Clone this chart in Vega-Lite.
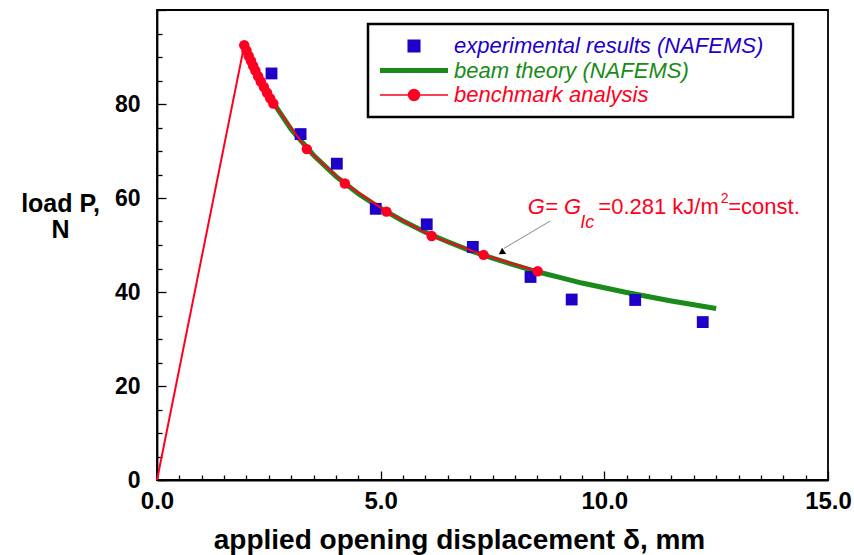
{
  "$schema": "https://vega.github.io/schema/vega-lite/v6.json",
  "width": 671,
  "height": 470,
  "autosize": {"type": "none"},
  "padding": {"left": 157, "top": 10, "right": 26, "bottom": 75},
  "background": "white",
  "config": {
    "view": {"stroke": "black", "strokeWidth": 1.8},
    "font": "Liberation Sans"
  },
  "datasets": {
    "beam": [
      {"d": 1.95, "P": 92.5, "series": "beam theory (NAFEMS)"},
      {"d": 2.0, "P": 91.4, "series": "beam theory (NAFEMS)"},
      {"d": 2.5, "P": 81.7, "series": "beam theory (NAFEMS)"},
      {"d": 3.0, "P": 74.6, "series": "beam theory (NAFEMS)"},
      {"d": 3.5, "P": 69.1, "series": "beam theory (NAFEMS)"},
      {"d": 4.0, "P": 64.6, "series": "beam theory (NAFEMS)"},
      {"d": 4.5, "P": 60.9, "series": "beam theory (NAFEMS)"},
      {"d": 5.0, "P": 57.8, "series": "beam theory (NAFEMS)"},
      {"d": 5.5, "P": 55.1, "series": "beam theory (NAFEMS)"},
      {"d": 6.0, "P": 52.7, "series": "beam theory (NAFEMS)"},
      {"d": 6.5, "P": 50.7, "series": "beam theory (NAFEMS)"},
      {"d": 7.0, "P": 48.8, "series": "beam theory (NAFEMS)"},
      {"d": 7.5, "P": 47.2, "series": "beam theory (NAFEMS)"},
      {"d": 8.0, "P": 45.7, "series": "beam theory (NAFEMS)"},
      {"d": 8.5, "P": 44.3, "series": "beam theory (NAFEMS)"},
      {"d": 9.0, "P": 43.1, "series": "beam theory (NAFEMS)"},
      {"d": 9.5, "P": 41.9, "series": "beam theory (NAFEMS)"},
      {"d": 10.0, "P": 40.9, "series": "beam theory (NAFEMS)"},
      {"d": 10.5, "P": 39.9, "series": "beam theory (NAFEMS)"},
      {"d": 11.0, "P": 39.0, "series": "beam theory (NAFEMS)"},
      {"d": 11.5, "P": 38.1, "series": "beam theory (NAFEMS)"},
      {"d": 12.0, "P": 37.3, "series": "beam theory (NAFEMS)"},
      {"d": 12.5, "P": 36.5, "series": "beam theory (NAFEMS)"}
    ],
    "experimental": [
      {"d": 2.56, "P": 86.5, "series": "experimental results (NAFEMS)"},
      {"d": 3.21, "P": 73.6, "series": "experimental results (NAFEMS)"},
      {"d": 4.02, "P": 67.3, "series": "experimental results (NAFEMS)"},
      {"d": 4.89, "P": 57.7, "series": "experimental results (NAFEMS)"},
      {"d": 6.03, "P": 54.4, "series": "experimental results (NAFEMS)"},
      {"d": 7.06, "P": 49.6, "series": "experimental results (NAFEMS)"},
      {"d": 8.35, "P": 43.2, "series": "experimental results (NAFEMS)"},
      {"d": 9.27, "P": 38.4, "series": "experimental results (NAFEMS)"},
      {"d": 10.69, "P": 38.3, "series": "experimental results (NAFEMS)"},
      {"d": 12.2, "P": 33.6, "series": "experimental results (NAFEMS)"}
    ],
    "benchmark": [
      {"d": 0.0, "P": 0.0, "series": "benchmark analysis"},
      {"d": 1.95, "P": 92.5, "series": "benchmark analysis"},
      {"d": 2.0, "P": 91.4, "series": "benchmark analysis"},
      {"d": 2.05, "P": 90.2, "series": "benchmark analysis"},
      {"d": 2.1, "P": 89.2, "series": "benchmark analysis"},
      {"d": 2.15, "P": 88.1, "series": "benchmark analysis"},
      {"d": 2.2, "P": 87.1, "series": "benchmark analysis"},
      {"d": 2.26, "P": 85.9, "series": "benchmark analysis"},
      {"d": 2.32, "P": 84.8, "series": "benchmark analysis"},
      {"d": 2.39, "P": 83.6, "series": "benchmark analysis"},
      {"d": 2.46, "P": 82.4, "series": "benchmark analysis"},
      {"d": 2.53, "P": 81.2, "series": "benchmark analysis"},
      {"d": 2.6, "P": 80.1, "series": "benchmark analysis"},
      {"d": 3.35, "P": 70.4, "series": "benchmark analysis"},
      {"d": 4.2, "P": 63.1, "series": "benchmark analysis"},
      {"d": 5.13, "P": 57.1, "series": "benchmark analysis"},
      {"d": 6.14, "P": 51.9, "series": "benchmark analysis"},
      {"d": 7.3, "P": 47.9, "series": "benchmark analysis"},
      {"d": 8.51, "P": 44.4, "series": "benchmark analysis"}
    ]
  },
  "resolve": {"axis": {"x": "independent", "y": "independent"}},
  "layer": [
    {
      "data": {"name": "beam"},
      "mark": {"type": "line", "strokeWidth": 5},
      "encoding": {
        "x": {
          "field": "d", "type": "quantitative",
          "scale": {"domain": [0, 15], "nice": false, "zero": false},
          "axis": {
            "orient": "bottom", "values": [0, 5, 10, 15], "format": ".1f",
            "ticks": false, "grid": false, "domain": true, "domainColor": "black", "domainWidth": 1.8,
            "labelFont": "Liberation Sans", "labelFontWeight": "bold", "labelFontSize": 24,
            "labelColor": "black", "labelPadding": 9, "labelFlush": false, "labelOverlap": false,
            "title": "applied opening displacement δ, mm",
            "titleFont": "Liberation Sans", "titleFontWeight": "bold", "titleFontSize": 28,
            "titleColor": "black", "titleX": 302, "titleY": 68, "titleBaseline": "alphabetic",
            "titleAlign": "center", "titleAnchor": null
          }
        },
        "y": {
          "field": "P", "type": "quantitative",
          "scale": {"domain": [0, 100], "nice": false, "zero": false},
          "axis": {
            "orient": "left", "values": [0, 20, 40, 60, 80], "format": "d",
            "ticks": false, "grid": false, "domain": true, "domainColor": "black", "domainWidth": 1.8,
            "labelFont": "Liberation Sans", "labelFontWeight": "bold", "labelFontSize": 23,
            "labelColor": "black", "labelPadding": 17, "labelFlush": false, "labelOverlap": false,
            "title": ["load P,", "N"],
            "titleFont": "Liberation Sans", "titleFontWeight": "bold", "titleFontSize": 25,
            "titleColor": "black", "titleAngle": 0, "titleX": -97, "titleY": 181,
            "titleBaseline": "top", "titleAlign": "center", "titleLineHeight": 26, "titleAnchor": null
          }
        },
        "color": {
          "field": "series", "type": "nominal",
          "scale": {
            "domain": ["experimental results (NAFEMS)", "beam theory (NAFEMS)", "benchmark analysis"],
            "range": ["#1e00c8", "#1a8a1a", "#ff0022"]
          },
          "legend": {
            "orient": "none", "legendX": 211, "legendY": 14, "title": null,
            "fillColor": "white", "strokeColor": "black", "padding": 11,
            "labelFont": "Liberation Sans", "labelFontSize": 22, "labelFontStyle": "italic",
            "labelLimit": 500, "labelOffset": 29, "symbolOffset": 24,
            "labelExpr": "datum.label + '\u00a0\u00a0\u00a0\u200b'",
            "symbolSize": 4624, "clipHeight": 22, "rowPadding": 2.5,
            "encode": {
              "legend": {"update": {"strokeWidth": {"value": 2.5}}},
              "labels": {"update": {"fill": {"signal": "datum.value === 'experimental results (NAFEMS)' ? '#1e00c8' : datum.value === 'beam theory (NAFEMS)' ? '#1a8a1a' : '#ff0022'"}}},
              "symbols": {"update": {
                "shape": {"signal": "datum.value === 'experimental results (NAFEMS)' ? 'M-0.17,-0.17H0.17V0.17H-0.17Z' : datum.value === 'beam theory (NAFEMS)' ? 'M-1,0H1' : 'M-1,0H1M0.16,0A0.16,0.16,0,1,1,-0.16,0A0.16,0.16,0,1,1,0.16,0Z'"},
                "fill": {"signal": "datum.value === 'experimental results (NAFEMS)' ? '#1e00c8' : datum.value === 'beam theory (NAFEMS)' ? 'transparent' : '#ff0022'"},
                "stroke": {"signal": "datum.value === 'experimental results (NAFEMS)' ? 'transparent' : datum.value === 'beam theory (NAFEMS)' ? '#1a8a1a' : '#ff0022'"},
                "strokeWidth": {"signal": "datum.value === 'beam theory (NAFEMS)' ? 5 : 1.5"},
                "opacity": {"value": 1}
              }}
            }
          }
        }
      }
    },
    {
      "data": {"name": "experimental"},
      "mark": {"type": "point", "shape": "square", "filled": true, "size": 140, "opacity": 1},
      "encoding": {
        "x": {
          "field": "d", "type": "quantitative",
          "axis": {
            "orient": "bottom", "values": [0, 5, 10, 15], "labels": false, "domain": false,
            "grid": false, "ticks": true, "tickSize": -9, "tickColor": "black", "tickWidth": 1.3,
            "title": null
          }
        },
        "y": {
          "field": "P", "type": "quantitative",
          "axis": {
            "orient": "left", "values": [0, 20, 40, 60, 80, 100], "labels": false, "domain": false,
            "grid": false, "ticks": true, "tickSize": -9, "tickColor": "black", "tickWidth": 1.3,
            "title": null
          }
        },
        "color": {"field": "series", "type": "nominal"}
      }
    },
    {
      "data": {"name": "benchmark"},
      "mark": {"type": "line", "strokeWidth": 2},
      "encoding": {
        "x": {
          "field": "d", "type": "quantitative",
          "axis": {
            "orient": "bottom",
            "values": [0.5, 1, 1.5, 2, 2.5, 3, 3.5, 4, 4.5, 5.5, 6, 6.5, 7, 7.5, 8, 8.5, 9, 9.5, 10.5, 11, 11.5, 12, 12.5, 13, 13.5, 14, 14.5],
            "labels": false, "domain": false,
            "grid": false, "ticks": true, "tickSize": -5, "tickColor": "black", "tickWidth": 1.3,
            "title": null
          }
        },
        "y": {
          "field": "P", "type": "quantitative",
          "axis": {
            "orient": "left",
            "values": [5, 10, 15, 25, 30, 35, 45, 50, 55, 65, 70, 75, 85, 90, 95],
            "labels": false, "domain": false,
            "grid": false, "ticks": true, "tickSize": -5, "tickColor": "black", "tickWidth": 1.3,
            "title": null
          }
        },
        "color": {"field": "series", "type": "nominal"}
      }
    },
    {
      "data": {"name": "benchmark"},
      "transform": [{"filter": "datum.d > 0"}],
      "mark": {"type": "point", "shape": "circle", "filled": true, "size": 110, "opacity": 1},
      "encoding": {
        "x": {"field": "d", "type": "quantitative", "axis": null},
        "y": {"field": "P", "type": "quantitative", "axis": null},
        "color": {"field": "series", "type": "nominal"}
      }
    },
    {
      "data": {"values": [{"d": 8.79, "P": 55.1, "d2": 7.76, "P2": 49.3}]},
      "mark": {"type": "rule", "color": "#888888", "strokeWidth": 1},
      "encoding": {
        "x": {"field": "d", "type": "quantitative", "axis": null},
        "y": {"field": "P", "type": "quantitative", "axis": null},
        "x2": {"field": "d2"},
        "y2": {"field": "P2"}
      }
    },
    {
      "data": {"values": [{"d": 7.7, "P": 48.4}]},
      "mark": {"type": "point", "shape": "triangle-up", "filled": true, "size": 55, "color": "black", "opacity": 1, "angle": 237},
      "encoding": {
        "x": {"field": "d", "type": "quantitative", "axis": null},
        "y": {"field": "P", "type": "quantitative", "axis": null}
      }
    },
    {
      "data": {"values": [{"d": 8.29, "P": 56.6, "t": "G= G"}]},
      "mark": {"type": "text", "align": "left", "baseline": "alphabetic", "font": "Liberation Sans", "fontSize": 22, "fontStyle": "italic", "color": "#ff0022"},
      "encoding": {
        "x": {"field": "d", "type": "quantitative", "axis": null},
        "y": {"field": "P", "type": "quantitative", "axis": null},
        "text": {"field": "t"}
      }
    },
    {
      "data": {"values": [{"d": 9.46, "P": 53.6, "t": "Ic"}]},
      "mark": {"type": "text", "align": "left", "baseline": "alphabetic", "font": "Liberation Sans", "fontSize": 18, "fontStyle": "italic", "color": "#ff0022"},
      "encoding": {
        "x": {"field": "d", "type": "quantitative", "axis": null},
        "y": {"field": "P", "type": "quantitative", "axis": null},
        "text": {"field": "t"}
      }
    },
    {
      "data": {"values": [{"d": 9.865, "P": 56.6, "t": "=0.281 kJ/m"}, {"d": 12.77, "P": 56.6, "t": "=const."}]},
      "mark": {"type": "text", "align": "left", "baseline": "alphabetic", "font": "Liberation Sans", "fontSize": 22, "color": "#ff0022"},
      "encoding": {
        "x": {"field": "d", "type": "quantitative", "axis": null},
        "y": {"field": "P", "type": "quantitative", "axis": null},
        "text": {"field": "t"}
      }
    },
    {
      "data": {"values": [{"d": 12.6, "P": 58.9, "t": "2"}]},
      "mark": {"type": "text", "align": "left", "baseline": "alphabetic", "font": "Liberation Sans", "fontSize": 14, "color": "#ff0022"},
      "encoding": {
        "x": {"field": "d", "type": "quantitative", "axis": null},
        "y": {"field": "P", "type": "quantitative", "axis": null},
        "text": {"field": "t"}
      }
    }
  ]
}
